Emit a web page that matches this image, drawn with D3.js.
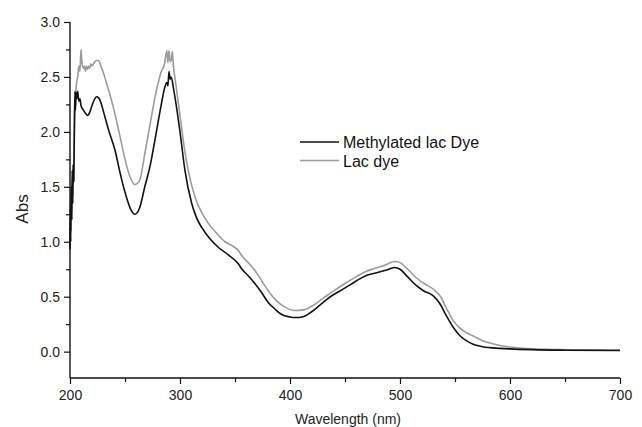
<!DOCTYPE html>
<html>
<head>
<meta charset="utf-8">
<script src="https://cdn.jsdelivr.net/npm/d3@7"></script>
<style>
  html, body { margin: 0; padding: 0; background: #fff; }
  svg { display: block; font-family: "Liberation Sans", Arial, sans-serif; }
</style>
</head>
<body>
<svg id="chart" width="642" height="427"></svg>
<script>
// wavelength (nm) / absorbance
const methylWl  = [200, 200.3, 200.7, 201, 201.5, 202, 202.5, 203, 203.5, 204, 204.5, 205, 205.5, 206, 207, 208, 209, 210, 212, 214, 216, 218, 220, 222, 224, 226, 228, 230, 235, 241, 245, 250, 255, 259, 263, 268, 273, 278, 283, 286, 288, 289, 290, 291, 292, 294, 296, 300, 304.5, 310.6, 315, 319.7, 327, 334.8, 344, 353, 356, 362, 368, 374, 380, 386, 392, 400, 405, 411, 420, 428, 436, 445, 455, 463, 470, 478, 487, 495, 500, 507, 515, 522, 530, 536, 542, 548.5, 555, 561, 567, 575, 591, 600, 620, 650, 700]
const methylAbs = [0.93, 1.3, 1.0, 1.5, 1.2, 1.65, 1.35, 1.7, 1.55, 2.1, 2.37, 2.2, 2.36, 2.3, 2.37, 2.28, 2.3, 2.24, 2.2, 2.17, 2.15, 2.18, 2.24, 2.29, 2.32, 2.31, 2.27, 2.2, 2.02, 1.83, 1.65, 1.45, 1.3, 1.25, 1.3, 1.5, 1.7, 1.97, 2.25, 2.4, 2.45, 2.42, 2.55, 2.48, 2.5, 2.4, 2.28, 2.0, 1.65, 1.35, 1.22, 1.13, 1.03, 0.95, 0.88, 0.80, 0.755, 0.69, 0.62, 0.54, 0.45, 0.39, 0.34, 0.315, 0.31, 0.315, 0.365, 0.43, 0.495, 0.55, 0.61, 0.66, 0.695, 0.715, 0.74, 0.765, 0.75, 0.68, 0.6, 0.55, 0.51, 0.44, 0.33, 0.22, 0.14, 0.095, 0.065, 0.045, 0.03, 0.025, 0.018, 0.013, 0.01]

const lacWl  = [200, 200.5, 201, 201.5, 202, 202.5, 203, 204, 205, 206, 207, 208, 209, 210, 211, 212, 213, 214, 215, 216, 217, 218, 219, 220, 222, 224, 226, 228, 230, 233, 236, 240, 245, 250, 255, 259, 263, 268, 273, 278, 283, 286, 288, 289, 290, 291, 292, 293, 294, 296, 300, 304, 307.5, 313.6, 320, 326, 334, 341, 348, 353, 356, 362, 368, 374, 380, 388, 395.5, 404, 412, 420, 430, 440, 450, 460, 468, 476, 486, 495, 500, 507, 515, 522, 530, 537, 543, 548.5, 555, 561, 567, 575, 585, 591, 600, 610, 621, 640, 660, 680, 700]
const lacAbs = [0.95, 1.35, 1.1, 1.5, 1.2, 1.7, 1.55, 2.0, 2.3, 2.45, 2.5, 2.6, 2.55, 2.75, 2.62, 2.58, 2.6, 2.55, 2.6, 2.57, 2.6, 2.58, 2.62, 2.6, 2.63, 2.65, 2.65, 2.6, 2.55, 2.45, 2.35, 2.2, 1.98, 1.75, 1.58, 1.52, 1.55, 1.8, 2.08, 2.35, 2.55, 2.62, 2.74, 2.63, 2.74, 2.64, 2.65, 2.73, 2.6, 2.45, 2.15, 1.85, 1.65, 1.41, 1.26, 1.165, 1.07, 1.0, 0.96, 0.92, 0.875, 0.81, 0.74, 0.65, 0.556, 0.46, 0.405, 0.375, 0.38, 0.415, 0.485, 0.555, 0.62, 0.68, 0.725, 0.755, 0.785, 0.82, 0.81, 0.75, 0.67, 0.62, 0.57, 0.5, 0.38, 0.28, 0.21, 0.17, 0.14, 0.1, 0.07, 0.056, 0.042, 0.032, 0.025, 0.02, 0.017, 0.016, 0.015]

const xMajor = [200, 300, 400, 500, 600, 700]
const xMinor = [250, 350, 450, 550, 650]
const yMajor = [0, 0.5, 1.0, 1.5, 2.0, 2.5, 3.0]
const yMinor = [0.25, 0.75, 1.25, 1.75, 2.25, 2.75]
const seriesNames = ["Methylated lac Dye", "Lac dye"]

const svg = d3.select("#chart")

const x = d3.scaleLinear().domain([200, 700]).range([70, 620])
const y = d3.scaleLinear().domain([-0.24, 3.0]).range([378, 22])

const lineGen = d3.line()
    .x(d => x(d[0]))
    .y(d => y(d[1]))
    .curve(d3.curveMonotoneX)

const lacData    = lacWl.map((w, i) => [w, lacAbs[i]])
const methylData = methylWl.map((w, i) => [w, methylAbs[i]])

// curves - gray under black
svg.append("path")
    .datum(lacData)
    .attr("fill", "none")
    .attr("stroke", "#9b9b9b")
    .attr("stroke-width", 1.6)
    .attr("stroke-linejoin", "round")
    .attr("d", lineGen)

svg.append("path")
    .datum(methylData)
    .attr("fill", "none")
    .attr("stroke", "#111")
    .attr("stroke-width", 1.6)
    .attr("stroke-linejoin", "round")
    .attr("d", lineGen)

// axes
function styleAxis(g) {
    g.select(".domain").attr("stroke", "#111").attr("stroke-width", 1.4)
    g.selectAll(".tick line").attr("stroke", "#111").attr("stroke-width", 1.2)
    g.selectAll(".tick text")
        .attr("fill", "#222")
        .style("font-size", "14px")
        .style("font-family", "'Liberation Sans', Arial, sans-serif")
}

const gx = svg.append("g").attr("transform", "translate(0,378)")
    .call(d3.axisBottom(x).tickValues(xMinor).tickSize(4).tickFormat(""))
gx.select(".domain").remove()
gx.selectAll(".tick line").attr("stroke", "#111").attr("stroke-width", 1.2)

const gx2 = svg.append("g").attr("transform", "translate(0,378)")
    .call(d3.axisBottom(x).tickValues(xMajor).tickSize(6).tickSizeOuter(0).tickPadding(6).tickFormat(d3.format("d")))
styleAxis(gx2)

const gy = svg.append("g").attr("transform", "translate(70,0)")
    .call(d3.axisLeft(y).tickValues(yMinor).tickSize(4).tickFormat(""))
gy.select(".domain").remove()
gy.selectAll(".tick line").attr("stroke", "#111").attr("stroke-width", 1.2)

const gy2 = svg.append("g").attr("transform", "translate(70,0)")
    .call(d3.axisLeft(y).tickValues(yMajor).tickSize(6).tickSizeOuter(0).tickPadding(4).tickFormat(d3.format(".1f")))
styleAxis(gy2)
// domain line should run from 3.0 down to the bottom axis
gy2.select(".domain").attr("d", `M0,${y(3.0)}V${y(-0.24)}`)
gx2.select(".domain").attr("d", `M${x(200)},0H${x(700)}`)

// axis titles
svg.append("text")
    .attr("x", 348).attr("y", 424)
    .attr("text-anchor", "middle")
    .attr("fill", "#222")
    .style("font-size", "14px")
    .text("Wavelength (nm)")

svg.append("text")
    .attr("transform", "translate(28,209) rotate(-90)")
    .attr("text-anchor", "middle")
    .attr("fill", "#222")
    .style("font-size", "17px")
    .text("Abs")

// legend
const legendColors = ["#111", "#9b9b9b"]
const legend = svg.append("g")
seriesNames.forEach((name, i) => {
    const ly = 142 + i * 18.5
    legend.append("line")
        .attr("x1", 300).attr("x2", 339)
        .attr("y1", ly).attr("y2", ly)
        .attr("stroke", legendColors[i])
        .attr("stroke-width", 1.6)
    legend.append("text")
        .attr("x", 343).attr("y", ly + 6)
        .attr("fill", "#111")
        .style("font-size", "16px")
        .text(name)
})
</script>
</body>
</html>
